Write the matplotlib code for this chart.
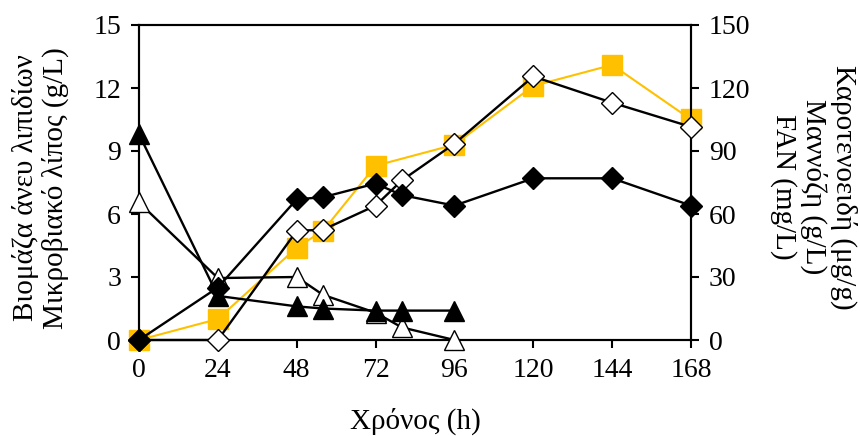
import numpy as np
import matplotlib
matplotlib.use('Agg')
from matplotlib import pyplot as plt

plt.rcParams['font.family'] = ['Liberation Serif', 'DejaVu Serif']

# time points (h)
t_full = [0, 24, 48, 56, 72, 80, 96, 120, 144, 168]
t_short = [0, 24, 48, 56, 72, 80, 96]
t_car = [0, 24, 48, 56, 72, 96, 120, 144, 168]

# left axis series (g/L)
biomass = [0, 2.5, 6.7, 6.8, 7.45, 6.9, 6.4, 7.7, 7.7, 6.4]
lipid = [0, 0, 5.2, 5.25, 6.4, 7.6, 9.35, 12.55, 11.3, 10.15]
mannose = [9.8, 2.1, 1.6, 1.5, 1.4, 1.4, 1.4]
fan = [6.55, 2.95, 3.0, 2.15, 1.3, 0.6, 0.0]
# right axis series (ug/g)
carotenoids = [0, 10, 44, 52, 83, 93, 121, 131, 105]

fig = plt.figure(figsize=(8.6, 4.36), dpi=100)
ax = fig.add_axes([139/860, 1-340/436, 552/860, 315/436])
ax2 = ax.twinx()

lw = 1.7
ax.plot(t_short, fan, color='black', lw=lw, marker='^', ms=14,
        mfc='white', mec='black', mew=1.0, zorder=3, clip_on=False)
ax.plot(t_short, mannose, color='black', lw=lw, marker='^', ms=14,
        mfc='black', mec='black', zorder=3, clip_on=False)
ax.plot(t_full, lipid, color='black', lw=lw, marker='D', ms=11.5,
        mfc='white', mec='black', mew=1.0, zorder=4, clip_on=False)
ax.plot(t_full, biomass, color='black', lw=lw, marker='D', ms=11.5,
        mfc='black', mec='black', zorder=4, clip_on=False)
ax2.plot(t_car, carotenoids, color='#FFC000', lw=1.5, marker='s', ms=14.5,
         mfc='#FFC000', mec='#FFC000', zorder=5, clip_on=False)

ax.set_xlim(0, 168)
ax.set_ylim(0, 15)
ax2.set_ylim(0, 150)
ax.set_xticks(np.arange(0, 169, 24))
ax.set_yticks(np.arange(0, 16, 3))
ax2.set_yticks(np.arange(0, 151, 30))

for a in (ax, ax2):
    for s in a.spines.values():
        s.set_linewidth(1.5)
ax.tick_params(axis='both', direction='out', length=6, width=1.5,
               labelsize=20, pad=7)
ax2.tick_params(axis='y', direction='out', length=6, width=1.5,
                labelsize=20, pad=7)
ax.set_zorder(ax2.get_zorder() + 1)
ax.patch.set_visible(False)

ax.set_xlabel('Χρόνος (h)', fontsize=21, labelpad=18)
fig.text(0.047, 0.569, 'Βιομάζα άνευ λιπιδίων\nΜικροβιακό λίπος (g/L)',
         rotation=90, fontsize=21, ha='center', va='center',
         multialignment='center', linespacing=1.1)
fig.text(0.946, 0.571, 'Καροτενοειδή (μg/g)\nΜαννόζη (g/L)\nFAN (mg/L)',
         rotation=270, fontsize=21, ha='center', va='center',
         multialignment='center', linespacing=1.15)

plt.savefig('out.png', dpi=100)
